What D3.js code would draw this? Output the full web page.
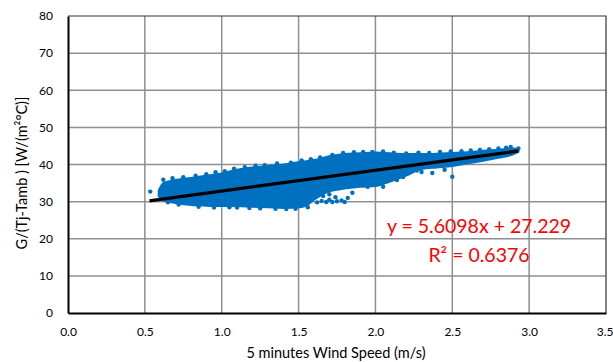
<!DOCTYPE html>
<html>
<head>
<meta charset="utf-8">
<script src="https://cdn.jsdelivr.net/npm/d3@7"></script>
<style>
  body { margin: 0; background: #fff; }
  svg { display: block; font-family: Lato, "Open Sans", sans-serif; }
</style>
</head>
<body>
<svg id="chart" width="613" height="362"></svg>
<script>
// x ticks and y ticks
const xTicks = [0.0, 0.5, 1.0, 1.5, 2.0, 2.5, 3.0, 3.5];
const yTicks = [0, 10, 20, 30, 40, 50, 60, 70, 80];

// outline of the dense point cloud
const cloudX     = [0.59, 0.62, 0.70, 0.80, 0.90, 1.00, 1.10, 1.20, 1.30, 1.40, 1.50, 1.55, 1.60, 1.70, 1.80, 1.90, 2.00, 2.10, 2.20, 2.30, 2.40, 2.50, 2.60, 2.70, 2.80, 2.90, 2.93];
const cloudUpper = [33.0, 35.0, 35.8, 36.4, 37.0, 37.6, 38.6, 39.2, 39.6, 40.0, 40.6, 40.9, 41.2, 42.2, 42.8, 43.0, 43.2, 43.0, 42.8, 42.8, 42.9, 43.1, 43.3, 43.7, 44.0, 44.3, 44.0];
const cloudLower = [31.5, 30.4, 29.6, 29.1, 28.9, 28.8, 28.8, 28.6, 28.5, 28.3, 28.4, 28.9, 30.5, 32.8, 33.5, 34.0, 34.2, 35.5, 37.0, 38.8, 39.2, 39.6, 40.3, 41.0, 41.8, 42.8, 43.4];

// loose points around the cloud edge
const looseX = [0.535, 0.62, 0.68, 0.75, 0.83, 0.90, 0.96, 1.02, 1.08, 1.15, 1.22, 1.28, 1.36, 1.45, 1.52, 1.58, 1.64, 1.72, 1.79, 1.86, 1.92, 1.98, 2.05, 2.12, 2.20, 2.28, 2.35, 2.42, 2.49, 2.56, 2.62, 2.68, 2.74, 2.80, 2.85, 2.88, 2.93,
                1.62, 1.65, 1.68, 1.70, 1.72, 1.75, 1.78, 1.80, 1.74, 1.66, 1.82, 1.70, 1.85, 1.95, 2.05, 2.14, 2.23, 2.37, 2.50, 2.45, 2.30, 2.18, 2.27,
                0.65, 0.72, 0.85, 0.95, 1.05, 1.10, 1.18, 1.25, 1.35, 1.42, 1.48, 1.56];
const looseY = [32.7, 35.9, 36.3, 36.6, 37.0, 37.4, 37.9, 38.2, 38.9, 39.3, 39.7, 39.8, 40.3, 40.5, 41.1, 41.4, 41.9, 42.6, 43.1, 43.3, 43.4, 43.4, 43.5, 43.2, 43.0, 43.2, 43.1, 43.4, 43.5, 43.6, 43.8, 43.9, 44.1, 44.3, 44.5, 44.7, 44.3,
                29.8, 30.2, 29.9, 30.5, 29.9, 30.1, 30.3, 29.9, 31.2, 31.5, 31.0, 32.0, 32.4, 34.0, 34.0, 35.8, 38.1, 37.7, 36.7, 38.6, 38.0, 36.6, 38.4,
                29.8, 29.2, 28.6, 28.4, 28.5, 28.4, 28.3, 28.2, 28.1, 28.0, 28.1, 28.5];

// linear trendline
const trendSlope = 5.6098;
const trendIntercept = 27.229;
const trendRange = [0.53, 2.93];
const trendLabels = ['y = 5.6098x + 27.229', 'R² = 0.6376'];

const svg = d3.select('#chart');
const plot = { left: 68, top: 16, right: 606, bottom: 313 };

const x = d3.scaleLinear().domain([0, 3.5]).range([plot.left, plot.right]);
const y = d3.scaleLinear().domain([0, 80]).range([plot.bottom, plot.top]);

// grid
svg.append('g')
  .selectAll('line.vgrid').data(xTicks.slice(1, -1)).join('line')
  .attr('x1', d => x(d)).attr('x2', d => x(d))
  .attr('y1', plot.top).attr('y2', plot.bottom)
  .attr('stroke', '#8f8f8f').attr('stroke-width', 1.5);
svg.append('g')
  .selectAll('line.hgrid').data(yTicks.slice(1, -1)).join('line')
  .attr('x1', plot.left).attr('x2', plot.right)
  .attr('y1', d => y(d)).attr('y2', d => y(d))
  .attr('stroke', '#8f8f8f').attr('stroke-width', 1.5);

// top / right border
svg.append('path')
  .attr('d', `M${plot.left},${plot.top}H${plot.right}V${plot.bottom}`)
  .attr('fill', 'none').attr('stroke', '#333').attr('stroke-width', 1.2);

// point cloud
const cloud = cloudX.map((v, i) => ({ x: v, lo: cloudLower[i], hi: cloudUpper[i] }));
svg.append('path')
  .datum(cloud)
  .attr('fill', '#0070c0')
  .attr('stroke', '#0070c0')
  .attr('stroke-width', 2)
  .attr('stroke-linejoin', 'round')
  .attr('d', d3.area().curve(d3.curveMonotoneX).x(d => x(d.x)).y0(d => y(d.lo)).y1(d => y(d.hi)));

svg.append('g')
  .selectAll('circle').data(looseX.map((v, i) => [v, looseY[i]])).join('circle')
  .attr('cx', d => x(d[0])).attr('cy', d => y(d[1]))
  .attr('r', 2.2).attr('fill', '#0070c0');

// trendline
svg.append('line')
  .attr('x1', x(trendRange[0])).attr('y1', y(trendSlope * trendRange[0] + trendIntercept))
  .attr('x2', x(trendRange[1])).attr('y2', y(trendSlope * trendRange[1] + trendIntercept))
  .attr('stroke', '#000').attr('stroke-width', 3.2);

// axes
const xAxis = svg.append('g')
  .attr('transform', `translate(0,${plot.bottom})`)
  .call(d3.axisBottom(x).tickValues(xTicks).tickFormat(d3.format('.1f')).tickSize(0).tickPadding(14));
const yAxis = svg.append('g')
  .attr('transform', `translate(${plot.left},0)`)
  .call(d3.axisLeft(y).tickValues(yTicks).tickSize(0).tickPadding(15));
[xAxis, yAxis].forEach(a => {
  a.select('.domain').attr('stroke', '#000').attr('stroke-width', 2);
  a.selectAll('text').attr('font-size', 12).attr('fill', '#000').attr('font-family', 'Lato, sans-serif');
});
// last x label sits at the very edge of the picture
xAxis.selectAll('.tick text').filter(d => d === 3.5).attr('text-anchor', 'end').attr('dx', 7);

// axis titles
svg.append('text')
  .attr('x', 336).attr('y', 358)
  .attr('text-anchor', 'middle').attr('font-size', 14.5).attr('fill', '#000')
  .text('5 minutes Wind Speed (m/s)');
svg.append('text')
  .attr('transform', 'translate(27,173) rotate(-90)')
  .attr('text-anchor', 'middle').attr('font-size', 14.5).attr('fill', '#000')
  .text('G/(Tj-Tamb ) [W/(m²°C)]');

// trendline label
svg.append('g')
  .selectAll('text').data(trendLabels).join('text')
  .attr('x', 479).attr('y', (d, i) => 233 + i * 29)
  .attr('text-anchor', 'middle').attr('font-size', 19.5).attr('fill', '#ff0000')
  .text(d => d);
</script>
</body>
</html>
